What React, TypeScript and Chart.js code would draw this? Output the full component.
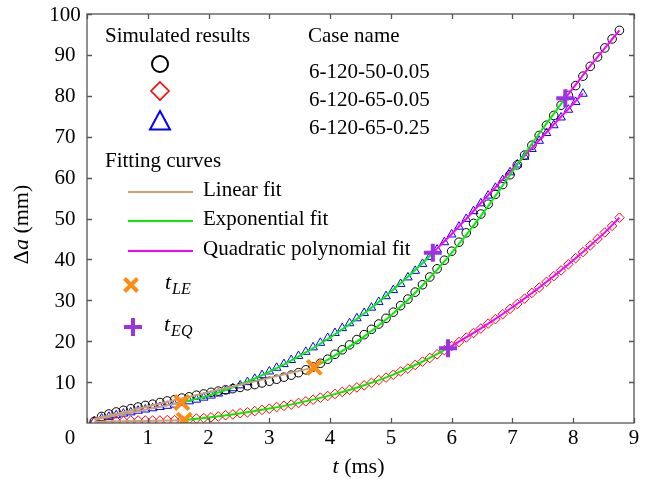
import React, { useEffect, useRef } from 'react';
import { Chart, registerables } from 'chart.js';

Chart.register(...registerables);

// ---------- data ----------
const timeMs = [
  0.12, 0.24, 0.36, 0.48, 0.60, 0.72, 0.84, 0.96, 1.08, 1.20, 1.32, 1.44, 1.56, 1.68, 1.80, 1.92,
  2.04, 2.16, 2.28, 2.40, 2.52, 2.64, 2.76, 2.88, 3.00, 3.12, 3.24, 3.36, 3.48, 3.60, 3.72, 3.84,
  3.96, 4.08, 4.20, 4.32, 4.44, 4.56, 4.68, 4.80, 4.92, 5.04, 5.16, 5.28, 5.40, 5.52, 5.64, 5.76,
  5.88, 6.00, 6.12, 6.24, 6.36, 6.48, 6.60, 6.72, 6.84, 6.96, 7.08, 7.20, 7.32, 7.44, 7.56, 7.68,
  7.80, 7.92, 8.04, 8.16, 8.28, 8.40, 8.52, 8.64, 8.76,
];

// 6-120-50-0.05 (black circles)
const case50_005 = [
  0.4, 1.6, 2.2, 2.7, 3.1, 3.5, 3.9, 4.3, 4.6, 5.0, 5.4, 5.7, 6.1, 6.4, 6.8, 7.1,
  7.5, 7.8, 8.1, 8.4, 8.7, 9.1, 9.4, 9.8, 10.2, 10.7, 11.2, 11.7, 12.3, 13.0, 13.7, 14.6,
  15.6, 16.8, 17.9, 19.1, 20.4, 21.6, 22.9, 24.2, 25.6, 27.1, 28.7, 30.3, 32.0, 33.8, 35.7, 37.7,
  39.8, 42.0, 44.2, 46.5, 48.8, 51.1, 53.5, 55.9, 58.3, 60.7, 63.1, 65.5, 67.9, 70.3, 72.8, 75.2,
  77.7, 80.1, 82.5, 84.8, 87.2, 89.5, 91.7, 93.9, 96.0,
];

// 6-120-65-0.05 (red diamonds)
const case65_005 = [
  0.2, 0.4, 0.5, 0.5, 0.5, 0.6, 0.6, 0.6, 0.6, 0.6, 0.7, 0.7, 0.7, 0.9, 1.1, 1.2,
  1.4, 1.6, 1.9, 2.1, 2.4, 2.6, 2.9, 3.2, 3.5, 3.9, 4.2, 4.5, 4.9, 5.3, 5.7, 6.2,
  6.6, 7.1, 7.6, 8.1, 8.7, 9.2, 9.8, 10.5, 11.1, 11.8, 12.6, 13.3, 14.2, 15.0, 15.9, 16.8,
  17.8, 18.8, 19.8, 20.9, 22.0, 23.1, 24.3, 25.4, 26.6, 27.9, 29.1, 30.4, 31.8, 33.1, 34.5, 35.9,
  37.3, 38.8, 40.3, 41.8, 43.4, 45.0, 46.6, 48.2, 50.2,
];

// 6-120-65-0.25 (blue triangles)
const case65_025 = [
  0.4, 1.1, 1.5, 1.9, 2.3, 2.6, 3.0, 3.3, 3.6, 3.9, 4.2, 4.5, 4.9, 5.3, 5.7, 6.2,
  6.7, 7.2, 7.8, 8.5, 9.2, 10.0, 10.8, 11.7, 12.6, 13.5, 14.4, 15.4, 16.4, 17.4, 18.5, 19.6,
  20.8, 22.0, 23.2, 24.4, 25.6, 26.9, 28.2, 29.6, 31.0, 32.5, 34.0, 35.6, 37.2, 38.9, 40.6, 42.4,
  44.2, 46.1, 48.0, 49.9, 51.8, 53.7, 55.6, 57.5, 59.4, 61.3, 63.2, 65.1, 67.0, 69.0, 70.9, 72.8,
  74.7, 76.6, 78.5, 80.5,
];

// Linear fits
const linFit50_005_t = [0.12, 3.74];
const linFit50_005_y = [1.0, 13.6];
const linFit65_005_t = [0.12, 1.6];
const linFit65_005_y = [0.3, 0.7];
const linFit65_025_t = [0.12, 1.56];
const linFit65_025_y = [0.8, 5.0];

// Exponential fits
const expFit50_005_t = [3.74, 4.0, 4.5, 5.0, 5.5, 6.0, 6.5, 7.0, 7.5, 7.87];
const expFit50_005_y = [13.7, 15.8, 20.5, 26.3, 33.3, 41.6, 51.0, 61.5, 72.0, 79.4];
const expFit65_005_t = [1.6, 2.0, 2.5, 3.0, 3.5, 4.0, 4.5, 5.0, 5.5, 5.94];
const expFit65_005_y = [0.7, 1.35, 2.33, 3.53, 4.98, 6.76, 8.94, 11.6, 14.85, 18.3];
const expFit65_025_t = [1.56, 2.0, 2.5, 3.0, 3.5, 4.0, 4.5, 5.0, 5.5, 5.69];
const expFit65_025_y = [5.0, 6.7, 9.3, 12.5, 16.4, 20.9, 26.1, 32.1, 38.8, 41.6];

// Quadratic polynomial fits
const quadFit50_005_t = [7.87, 8.2, 8.5, 8.76];
const quadFit50_005_y = [79.4, 85.8, 91.3, 96.0];
const quadFit65_005_t = [5.94, 6.5, 7.0, 7.5, 8.0, 8.5, 8.76];
const quadFit65_005_y = [18.3, 23.3, 28.3, 33.8, 39.8, 46.3, 50.2];
const quadFit65_025_t = [5.69, 6.0, 6.5, 7.0, 7.5, 8.16];
const quadFit65_025_y = [41.6, 46.2, 54.1, 62.1, 70.1, 80.6];

// Transition times
const tLE_t = [1.56, 1.6, 3.74];
const tLE_y = [5.0, 0.7, 13.6];
const tEQ_t = [5.69, 5.94, 7.87];
const tEQ_y = [41.6, 18.3, 79.4];

const xTickValues = [0, 1, 2, 3, 4, 5, 6, 7, 8, 9];
const yTickValues = [10, 20, 30, 40, 50, 60, 70, 80, 90, 100];

const caseNames = ['6-120-50-0.05', '6-120-65-0.05', '6-120-65-0.25'];
const fitNames = ['Linear fit', 'Exponential fit', 'Quadratic polynomial fit'];

// ---------- styling ----------
const SERIF = '"Liberation Serif", "DejaVu Serif", serif';
const C_BLACK = '#000000';
const C_RED = '#ff0000';
const C_BLUE = '#0000ff';
const C_TAN = '#c9a07a';
const C_GREEN = '#00f000';
const C_MAGENTA = '#ff00ff';
const C_ORANGE = '#ff8c10';
const C_PURPLE = '#9a34e0';
const C_AXIS = '#555555';

const zip = (xs: number[], ys: number[]) => ys.map((y, i) => ({ x: xs[i], y }));

function drawCircle(ctx: CanvasRenderingContext2D, x: number, y: number, r: number, color: string, lw: number) {
  ctx.beginPath();
  ctx.arc(x, y, r, 0, Math.PI * 2);
  ctx.strokeStyle = color;
  ctx.lineWidth = lw;
  ctx.stroke();
}
function drawDiamond(ctx: CanvasRenderingContext2D, x: number, y: number, r: number, color: string, lw: number) {
  ctx.beginPath();
  ctx.moveTo(x, y - r);
  ctx.lineTo(x + r, y);
  ctx.lineTo(x, y + r);
  ctx.lineTo(x - r, y);
  ctx.closePath();
  ctx.strokeStyle = color;
  ctx.lineWidth = lw;
  ctx.stroke();
}
function drawTriangle(ctx: CanvasRenderingContext2D, x: number, y: number, r: number, color: string, lw: number) {
  ctx.beginPath();
  ctx.moveTo(x, y - r);
  ctx.lineTo(x + r, y + r * 0.85);
  ctx.lineTo(x - r, y + r * 0.85);
  ctx.closePath();
  ctx.strokeStyle = color;
  ctx.lineWidth = lw;
  ctx.stroke();
}
function drawX(ctx: CanvasRenderingContext2D, x: number, y: number, r: number, color: string, lw: number) {
  ctx.beginPath();
  ctx.moveTo(x - r, y - r);
  ctx.lineTo(x + r, y + r);
  ctx.moveTo(x + r, y - r);
  ctx.lineTo(x - r, y + r);
  ctx.strokeStyle = color;
  ctx.lineWidth = lw;
  ctx.stroke();
}
function drawPlus(ctx: CanvasRenderingContext2D, x: number, y: number, r: number, color: string, lw: number) {
  ctx.beginPath();
  ctx.moveTo(x - r, y);
  ctx.lineTo(x + r, y);
  ctx.moveTo(x, y - r);
  ctx.lineTo(x, y + r);
  ctx.strokeStyle = color;
  ctx.lineWidth = lw;
  ctx.stroke();
}

function drawSubT(ctx: CanvasRenderingContext2D, x: number, y: number, sub: string) {
  ctx.fillStyle = '#000';
  ctx.textAlign = 'left';
  ctx.textBaseline = 'middle';
  ctx.font = `italic 22px ${SERIF}`;
  ctx.fillText('t', x, y);
  const w = ctx.measureText('t').width;
  ctx.font = `italic 16px ${SERIF}`;
  ctx.fillText(sub, x + w + 1, y + 7);
}

const decorPlugin = {
  id: 'decor',
  afterDraw(chart: any) {
    const ctx: CanvasRenderingContext2D = chart.ctx;
    const { left, right, top, bottom } = chart.chartArea;
    const xs = chart.scales.x;
    const ys = chart.scales.y;
    ctx.save();

    // box
    ctx.strokeStyle = C_AXIS;
    ctx.lineWidth = 1.3;
    ctx.strokeRect(left, top, right - left, bottom - top);

    // ticks
    const tl = 5;
    ctx.beginPath();
    xTickValues.forEach((v) => {
      const px = Math.round(xs.getPixelForValue(v)) + 0.5;
      ctx.moveTo(px, bottom);
      ctx.lineTo(px, bottom - tl);
      ctx.moveTo(px, top);
      ctx.lineTo(px, top + tl);
    });
    yTickValues.forEach((v) => {
      const py = Math.round(ys.getPixelForValue(v)) + 0.5;
      ctx.moveTo(left, py);
      ctx.lineTo(left + tl, py);
      ctx.moveTo(right, py);
      ctx.lineTo(right - tl, py);
    });
    ctx.stroke();

    // tick labels
    ctx.fillStyle = '#000';
    ctx.font = `21px ${SERIF}`;
    ctx.textAlign = 'center';
    ctx.textBaseline = 'middle';
    xTickValues.forEach((v) => {
      let px = xs.getPixelForValue(v);
      if (v === 0) px -= 17;
      ctx.fillText(String(v), px, bottom + 15);
    });
    yTickValues.forEach((v) => {
      const py = ys.getPixelForValue(v);
      ctx.fillText(String(v), left - 22, py + 1);
    });

    // x title: t (ms)
    ctx.textAlign = 'left';
    ctx.font = `italic 22px ${SERIF}`;
    const tW = ctx.measureText('t').width;
    ctx.font = `22px ${SERIF}`;
    const restW = ctx.measureText(' (ms)').width;
    const xStart = (left + right) / 2 - 2 - (tW + restW) / 2;
    ctx.font = `italic 22px ${SERIF}`;
    ctx.fillText('t', xStart, bottom + 44);
    ctx.font = `22px ${SERIF}`;
    ctx.fillText(' (ms)', xStart + tW, bottom + 44);

    // y title: Δa (mm)
    ctx.save();
    ctx.translate(22, (top + bottom) / 2 + 6);
    ctx.rotate(-Math.PI / 2);
    ctx.font = `22px ${SERIF}`;
    const dW = ctx.measureText('Δ').width;
    const mW = ctx.measureText(' (mm)').width;
    ctx.font = `italic 22px ${SERIF}`;
    const aW = ctx.measureText('a').width;
    let yx = -(dW + aW + mW) / 2;
    ctx.font = `22px ${SERIF}`;
    ctx.fillText('Δ', yx, 0);
    yx += dW;
    ctx.font = `italic 22px ${SERIF}`;
    ctx.fillText('a', yx, 0);
    yx += aW;
    ctx.font = `22px ${SERIF}`;
    ctx.fillText(' (mm)', yx, 0);
    ctx.restore();

    // legend
    ctx.font = `21px ${SERIF}`;
    ctx.textAlign = 'left';
    ctx.textBaseline = 'middle';
    ctx.fillStyle = '#000';
    ctx.fillText('Simulated results', 105, 36);
    ctx.fillText('Case name', 308, 36);
    ctx.fillText(caseNames[0], 309, 72);
    ctx.fillText(caseNames[1], 309, 100);
    ctx.fillText(caseNames[2], 309, 128);
    drawCircle(ctx, 160, 64, 8, C_BLACK, 2);
    drawDiamond(ctx, 160, 91, 9, C_RED, 1.6);
    drawTriangle(ctx, 160, 121, 10, C_BLUE, 2);

    ctx.fillStyle = '#000';
    ctx.fillText('Fitting curves', 105, 161);
    const fitColors = [C_TAN, C_GREEN, C_MAGENTA];
    const fitYs = [190, 219, 249];
    fitNames.forEach((n, i) => {
      ctx.beginPath();
      ctx.moveTo(128, fitYs[i] + 2);
      ctx.lineTo(193, fitYs[i] + 2);
      ctx.strokeStyle = fitColors[i];
      ctx.lineWidth = 2;
      ctx.stroke();
      ctx.fillStyle = '#000';
      ctx.fillText(n, 203, fitYs[i]);
    });

    drawX(ctx, 131, 285, 6.5, C_ORANGE, 4);
    drawSubT(ctx, 165, 283, 'LE');
    drawPlus(ctx, 133, 327, 9, C_PURPLE, 4);
    drawSubT(ctx, 164, 325, 'EQ');

    ctx.restore();
  },
};

export default function App() {
  const ref = useRef<HTMLCanvasElement | null>(null);

  useEffect(() => {
    if (!ref.current) return;
    const fit = (xs: number[], ys: number[], color: string) => ({
      data: zip(xs, ys),
      showLine: true,
      borderColor: color,
      backgroundColor: color,
      borderWidth: 2,
      pointRadius: 0,
      cubicInterpolationMode: 'monotone' as const,
      order: 1,
    });
    const chart = new Chart(ref.current, {
      type: 'scatter',
      data: {
        datasets: [
          {
            label: 't_LE',
            data: zip(tLE_t, tLE_y),
            pointStyle: 'crossRot',
            pointRadius: 10,
            borderColor: C_ORANGE,
            backgroundColor: C_ORANGE,
            borderWidth: 4,
            order: 0,
          },
          {
            label: 't_EQ',
            data: zip(tEQ_t, tEQ_y),
            pointStyle: 'cross',
            pointRadius: 9,
            borderColor: C_PURPLE,
            backgroundColor: C_PURPLE,
            borderWidth: 4,
            order: 0,
          },
          { label: 'lin1', ...fit(linFit50_005_t, linFit50_005_y, C_TAN) },
          { label: 'lin2', ...fit(linFit65_005_t, linFit65_005_y, C_TAN) },
          { label: 'lin3', ...fit(linFit65_025_t, linFit65_025_y, C_TAN) },
          { label: 'exp1', ...fit(expFit50_005_t, expFit50_005_y, C_GREEN) },
          { label: 'exp2', ...fit(expFit65_005_t, expFit65_005_y, C_GREEN) },
          { label: 'exp3', ...fit(expFit65_025_t, expFit65_025_y, C_GREEN) },
          { label: 'quad1', ...fit(quadFit50_005_t, quadFit50_005_y, C_MAGENTA) },
          { label: 'quad2', ...fit(quadFit65_005_t, quadFit65_005_y, C_MAGENTA) },
          { label: 'quad3', ...fit(quadFit65_025_t, quadFit65_025_y, C_MAGENTA) },
          {
            label: caseNames[0],
            data: zip(timeMs, case50_005),
            pointStyle: 'circle',
            pointRadius: 4.3,
            borderColor: C_BLACK,
            backgroundColor: 'rgba(0,0,0,0)',
            borderWidth: 1,
            order: 2,
          },
          {
            label: caseNames[1],
            data: zip(timeMs, case65_005),
            pointStyle: 'rectRot',
            pointRadius: 4.8,
            borderColor: C_RED,
            backgroundColor: 'rgba(0,0,0,0)',
            borderWidth: 1,
            order: 2,
          },
          {
            label: caseNames[2],
            data: zip(timeMs, case65_025),
            pointStyle: 'triangle',
            pointRadius: 5,
            borderColor: C_BLUE,
            backgroundColor: 'rgba(0,0,0,0)',
            borderWidth: 1,
            order: 2,
          },
        ],
      },
      options: {
        animation: false,
        responsive: false,
        maintainAspectRatio: false,
        layout: { padding: { left: 87, right: 6, top: 10, bottom: 63 } },
        scales: {
          x: { type: 'linear', min: 0, max: 9, display: false },
          y: { type: 'linear', min: 0, max: 100, display: false },
        },
        plugins: {
          legend: { display: false },
          tooltip: { enabled: false },
        },
        events: [],
      },
      plugins: [decorPlugin],
    });
    return () => chart.destroy();
  }, []);

  return (
    <div style={{ position: 'fixed', left: 0, top: 0, width: 648, height: 486, background: '#fff' }}>
      <canvas ref={ref} width={648} height={486} style={{ display: 'block', width: 648, height: 486 }} />
    </div>
  );
}
